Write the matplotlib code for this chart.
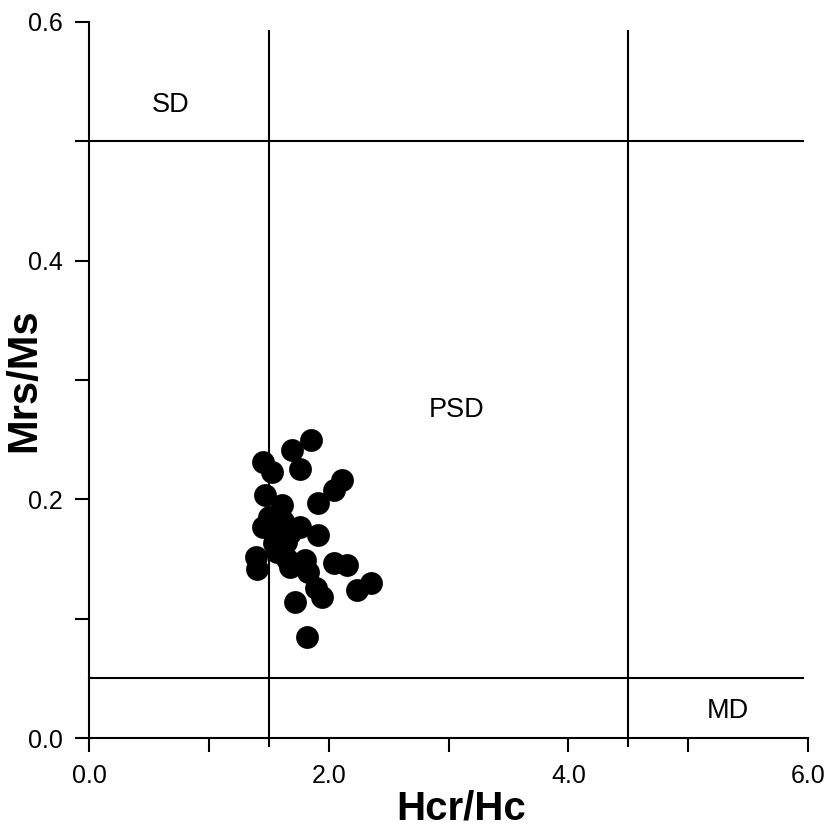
import matplotlib
matplotlib.use('Agg')
import matplotlib.pyplot as plt
from matplotlib.ticker import MultipleLocator, FormatStrFormatter

# Day plot data (Hcr/Hc vs Mrs/Ms)
hcr_hc = [1.85, 1.69, 1.76, 1.45, 1.53, 2.11, 2.04, 1.91, 1.47, 1.61,
          1.45, 1.57, 1.68, 1.76, 1.91, 1.54, 1.64, 1.39, 1.40, 1.57,
          1.68, 1.80, 1.83, 2.04, 2.15, 2.24, 2.35, 1.89, 1.94, 1.72,
          1.82, 1.50, 1.62, 1.58, 1.65]
mrs_ms = [0.250, 0.241, 0.225, 0.231, 0.223, 0.216, 0.208, 0.197, 0.204, 0.195,
          0.177, 0.174, 0.172, 0.177, 0.170, 0.163, 0.164, 0.152, 0.142, 0.156,
          0.143, 0.149, 0.139, 0.147, 0.145, 0.124, 0.130, 0.126, 0.118, 0.114,
          0.085, 0.185, 0.182, 0.168, 0.150]

# domain boundaries
hc_bounds = [1.5, 4.5]
ms_bounds = [0.5, 0.05]
regions = ['SD', 'PSD', 'MD']
region_pos = [(0.68, 0.530), (3.07, 0.275), (5.33, 0.023)]

plt.rcParams['font.family'] = ['Liberation Sans', 'DejaVu Sans']

fig = plt.figure(figsize=(8.28, 8.26), dpi=100)
ax = fig.add_axes([0.1075, 0.1065, 0.8685, 0.867])

ax.scatter(hcr_hc, mrs_ms, s=270, color='black', zorder=3, linewidths=0)

for x in hc_bounds:
    ax.plot([x, x], [-0.007, 0.592], color='black', lw=1.5, clip_on=False)
for y in ms_bounds:
    ax.plot([0, 5.96], [y, y], color='black', lw=1.5, clip_on=False)

for name, (x, y) in zip(regions, region_pos):
    ax.text(x, y, name, fontsize=19.5, ha='center', va='center')

ax.set_xlim(0, 6)
ax.set_ylim(0, 0.6)
ax.xaxis.set_major_locator(MultipleLocator(2))
ax.xaxis.set_minor_locator(MultipleLocator(1))
ax.yaxis.set_major_locator(MultipleLocator(0.2))
ax.yaxis.set_minor_locator(MultipleLocator(0.1))
ax.xaxis.set_major_formatter(FormatStrFormatter('%.1f'))
ax.yaxis.set_major_formatter(FormatStrFormatter('%.1f'))

ax.tick_params(which='both', direction='out', length=10, width=1.5, labelsize=18, pad=9)

for side in ['top', 'right']:
    ax.spines[side].set_visible(False)
for side in ['left', 'bottom']:
    ax.spines[side].set_linewidth(1.5)

ax.set_xlabel('Hcr/Hc', fontsize=29, fontweight='bold')
ax.set_ylabel('Mrs/Ms', fontsize=30, fontweight='bold')
ax.xaxis.set_label_coords(0.518, -0.072)
ax.yaxis.set_label_coords(-0.062, 0.5)

fig.savefig('out.png', dpi=100)
